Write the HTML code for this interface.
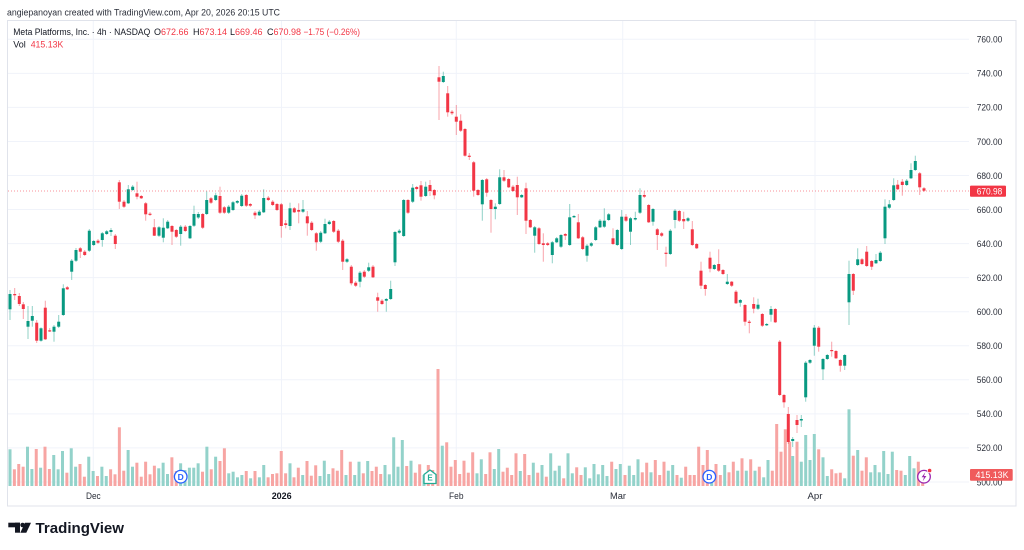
<!DOCTYPE html>
<html><head><meta charset="utf-8">
<style>
html,body{margin:0;padding:0;background:#fff;width:1024px;height:550px;overflow:hidden}
svg{display:block;font-family:"Liberation Sans",sans-serif}
</style></head>
<body>
<svg id="c" width="1024" height="550" viewBox="0 0 1024 550" xmlns="http://www.w3.org/2000/svg">
<rect x="0" y="0" width="1024" height="550" fill="#fff"/>
<text x="7" y="15.3" font-size="9" fill="#2a2e39" textLength="273" lengthAdjust="spacingAndGlyphs">angiepanoyan created with TradingView.com, Apr 20, 2026 20:15 UTC</text>
<g id="grid"></g>
<g id="vol"></g>
<g id="cdl"></g>
<line x1="8" y1="191" x2="969" y2="191" stroke="#f23645" stroke-opacity="0.55" stroke-width="1" stroke-dasharray="1 2"/>
<!-- markers -->
<circle cx="180.7" cy="476.7" r="6.3" fill="#fff" stroke="#2962ff" stroke-width="1.3"/>
<text x="180.7" y="479.8" font-size="8.5" font-weight="bold" fill="#2962ff" text-anchor="middle">D</text>
<circle cx="709.3" cy="476.7" r="6.3" fill="#fff" stroke="#2962ff" stroke-width="1.3"/>
<text x="709.3" y="479.8" font-size="8.5" font-weight="bold" fill="#2962ff" text-anchor="middle">D</text>
<polygon points="424,474.5 430,470 436,474.5 436,483.5 424,483.5" fill="#fff" stroke="#22ab94" stroke-width="1.3" stroke-linejoin="round"/>
<text x="430" y="480.7" font-size="8" font-weight="bold" fill="#22ab94" text-anchor="middle">E</text>
<circle cx="924" cy="476.7" r="6.3" fill="#fff" stroke="#9c27b0" stroke-width="1.3"/>
<path d="M925.3,472.3 L921.6,477.3 L924,477.3 L922.7,481.2 L926.4,476 L924,476 Z" fill="#9c27b0"/>
<circle cx="929.6" cy="470.6" r="2.2" fill="#f23645" stroke="#fff" stroke-width="0.8"/>
<!-- legend -->
<g font-size="9" fill="#131722">
<text x="13.3" y="35.2" textLength="137" lengthAdjust="spacingAndGlyphs">Meta Platforms, Inc. · 4h · NASDAQ</text>
<text x="154" y="35.2">O<tspan fill="#f23645">672.66</tspan></text>
<text x="193" y="35.2">H<tspan fill="#f23645">673.14</tspan></text>
<text x="230" y="35.2">L<tspan fill="#f23645">669.46</tspan></text>
<text x="267" y="35.2">C<tspan fill="#f23645">670.98</tspan></text>
<text x="303.5" y="35.2" fill="#f23645" textLength="56.5" lengthAdjust="spacingAndGlyphs">−1.75 (−0.26%)</text>
<text x="13.3" y="47.3">Vol</text>
<text x="30.7" y="47.3" fill="#f23645" textLength="32.6" lengthAdjust="spacingAndGlyphs">415.13K</text>
</g>
<!-- price axis -->
<g id="pax" font-size="9.2" fill="#2a2e39"></g>
<rect x="970" y="185.6" width="36" height="11.2" rx="1" fill="#f23645"/>
<text x="976.7" y="194.5" font-size="9.2" fill="#fff" textLength="25.6" lengthAdjust="spacingAndGlyphs">670.98</text>
<rect x="970" y="469" width="42.7" height="11.7" rx="1" fill="#f05a5c"/>
<text x="975.5" y="478.2" font-size="9.2" fill="#fff" textLength="33" lengthAdjust="spacingAndGlyphs">415.13K</text>
<!-- time axis -->
<g font-size="9" fill="#2a2e39">
<text x="86" y="499.2" textLength="14.7" lengthAdjust="spacingAndGlyphs">Dec</text>
<text x="271.7" y="499.2" font-weight="bold" fill="#131722" textLength="20" lengthAdjust="spacingAndGlyphs">2026</text>
<text x="449" y="499.2" textLength="14.5" lengthAdjust="spacingAndGlyphs">Feb</text>
<text x="610" y="499.2" textLength="16" lengthAdjust="spacingAndGlyphs">Mar</text>
<text x="807.5" y="499.2" textLength="15" lengthAdjust="spacingAndGlyphs">Apr</text>
</g>
<!-- frame -->
<rect x="7.5" y="20.5" width="1008.5" height="485.5" fill="none" stroke="#e0e3eb" stroke-width="1"/>
<!-- logo -->
<g fill="#131722">
<rect x="8.3" y="522.7" width="11.7" height="4.6"/>
<rect x="15" y="522.7" width="5" height="10"/>
<circle cx="22.6" cy="525" r="2.3"/>
<polygon points="25,522.7 31,522.7 26.3,532.7 20.3,532.7"/>
<text x="35.5" y="532.8" font-size="14.6" font-weight="bold" textLength="88.5" lengthAdjust="spacingAndGlyphs">TradingView</text>
</g>
</svg>
<script>
(function(){
var NS="http://www.w3.org/2000/svg";
function el(p,n,a){var e=document.createElementNS(NS,n);for(var k in a)e.setAttribute(k,a[k]);p.appendChild(e);return e;}
var grid=document.getElementById("grid");
for(var k=0;k<14;k++){var y=39.3+k*34.05;el(grid,"line",{x1:8,x2:969,y1:y,y2:y,stroke:"#f0f3fa","stroke-width":1});}
[93.3,281.5,456.3,622.7,815].forEach(function(x){el(grid,"line",{x1:x,x2:x,y1:21,y2:486,stroke:"#f0f3fa","stroke-width":1});});
var pax=document.getElementById("pax");
for(var k=0;k<14;k++){var y=39.3+k*34.05;var t=el(pax,"text",{x:976.7,y:(y+3.3).toFixed(1),textLength:25.6,lengthAdjust:"spacingAndGlyphs"});t.textContent=(760-20*k).toFixed(2);}
// volume
var v4=[[449.3,1],[469.3,0],[464,0],[466.7,0],[446.7,1],[469,1],[449,0],[467.7,1],[446.7,0],[469,0],[455,1],[469.3,1],[451,1],[472.7,0],[448.3,1],[466.7,1],[464,0],[476.7,0],[456.7,1],[471,1],[476,0],[466.7,1],[476,1],[469.3,0],[474.3,0],[427.3,0],[470.7,0],[450,1],[466.7,1],[462.7,0],[476.7,0],[461.7,0],[474.3,0],[465.7,0],[468.3,1],[462.7,1],[474,1],[457.3,0],[471,0],[463.3,1],[470,1],[467.7,1],[467.7,1],[463.3,1],[471.7,0],[446.7,1],[469.3,0],[456.7,1],[461,0],[448.3,0],[473.3,1],[471.7,1],[477.3,1],[475,1],[471,0],[478.3,1],[471,0],[477.3,1],[465,1],[477.3,0],[474,0],[473.3,0],[451,0],[473.3,0],[463.3,1]];
var vols=[];
v4.forEach(function(a,i){vols.push([10+i*4.375,a[0],a[1]]);});
var vrest=[[294,477.3,0],[298.3,467.7,0],[302.7,475,1],[307,461,0],[311.3,475.7,0],[315.7,465.3,0],[320,476,1],[324.3,460.7,1],[328.7,474,1],[333,468.3,0],[337.3,470.7,0],[341.7,450,0],[346,475,1],[350.3,461.7,0],[354.7,475,1],[359,461.7,1],[363.3,473.3,0],[367.7,461,1],[372,471,0],[376.3,466.7,0],[380.7,474,0],[385,465,1],[389.3,474.3,1],[393.7,437.3,1],[398,466.7,1],[402.3,440,1],[406.7,466,0],[411,460.7,1],[415.3,472.7,0],[419.7,464.3,0],[424,475,1],[428.3,465,0],[432.7,470,0],[438,369,0],[442.3,445.7,1],[446.7,442.3,0],[451,466.7,0],[455.3,460,0],[459.7,474,0],[464,460.7,0],[468.3,472.7,0],[472.7,452.3,0],[477,473.3,1],[481.3,459.3,1],[485.7,474,0],[490,452.3,0],[494.3,469,1],[498.7,449,1],[503,471.7,0],[507.3,467.7,0],[511.7,475,0],[516,453.3,0],[520.3,471,1],[524.7,454,0],[529,475,0],[533.3,462.7,1],[537.7,472.7,0],[542,465,1],[546.3,476.7,0],[550.7,453.3,1],[555,470.7,1],[559.3,465.7,1],[563.7,478.3,0],[568,453.3,1],[572.3,473.3,1],[576.7,467.3,0],[581,475,0],[585.3,467.3,1],[589.7,478.3,1],[594,464,1],[598.3,474.3,1],[602.7,465,1],[607,476,1],[611.7,461.7,0],[616,469,1],[620.3,464,1],[625,475,0],[629.3,465.7,1],[633.7,475,1],[638,459.3,1],[642.3,472.3,0],[646.7,462.7,0],[651,472.3,1],[655.3,460,0],[659.7,475,0],[664,461.7,0],[668.3,470.7,1],[672.7,465,1],[677,475,0],[681.3,477.7,1],[685.7,466.7,0],[690,475,0],[694.3,475,0],[698.7,446.7,0],[703,465,0],[707.3,450,0],[711.7,475,1],[716,464,0],[720.3,475,0],[724.7,465,1],[729,472.3,0],[733.3,461.7,0],[737.7,470.7,1],[742,458.3,0],[746.3,470.7,1],[750.7,459.3,0],[755,470.7,1],[759.3,466.7,0],[763.7,477.3,1],[768,460,1],[772.3,470.7,0],[776.7,424,0],[781,451.7,0],[785.3,429.3,0],[789.7,441.7,0],[792.7,456,1],[797,441.7,0],[801.3,461.7,1],[805.7,435,1],[810,460,1],[814.3,434,1],[818.7,449.3,0],[823,457.3,1],[827.3,476,1],[831.7,469.3,0],[836,473.3,0],[840.3,472.7,0],[844.7,478.3,1],[849,409.3,1],[853.3,455.7,0],[857.7,450,1],[862,470.7,0],[866.3,457.3,0],[870.7,472.3,1],[875,465,1],[879.3,472.3,1],[883.7,451,1],[888,474,1],[892.3,451.7,1],[896.7,470,0],[901,470.7,0],[905.3,475,1],[909.7,456,1],[914,468.3,1],[918.3,461.7,0],[922.7,476,0]];
vols=vols.concat(vrest);
var vg=document.getElementById("vol");
vols.forEach(function(v){el(vg,"rect",{x:(v[0]-1.5).toFixed(2),y:v[1],width:3,height:(486-v[1]).toFixed(2),fill:v[2]?"#93d2ca":"#f7a5a3"});});
// candles [x, bodyTop, bodyBot, wickTop, wickBot, green]
var C=[[10,294,309.3,290,320,1],[14.7,294,295.3,288,300,0],[19.3,296,304,293,306,0],[23.3,304.3,309,302,319,0],[28,321,326.7,306,339,1],[32.3,316,320.7,306,326.7,1],[36.7,322.7,340.7,320,343,0],[41,328.3,340.7,0,0,1],[45.3,307.7,339.3,300.7,340,0],[49.7,330.3,331.3,328,332,0],[54,326.7,331.7,325,341.7,1],[58.7,321.7,326.7,315,328,1],[63.3,288.3,315,284.3,316,1],[67.3,287.3,289.3,286,290,0],[71.7,260.7,271.7,259,280,1],[76,250,260.7,248,262,1],[80.3,248.3,251.7,247,258,0],[84.7,251.7,255,250,256,0],[89.3,230.7,250.7,229,252,1],[93.7,241,245,240,246,1],[98,240.7,242.7,239,244,0],[102.3,233.3,240,232,246.7,1],[106.7,231.3,234,230,235,1],[111,230,232,228,236,1],[115.3,235.7,244,234,249,0],[119.3,182.3,201.7,180,209,0],[124,201.7,206.7,200,208,0],[128.3,189.3,203.3,185,204,1],[132.7,186.7,190,185,191,1],[137,193.3,196.7,181.7,199.3,0],[141.3,196,198.3,195,199,0],[145.7,203.3,214.3,202,220.7,0],[150,213.7,214.7,212,216,0],[154.3,227.3,235.7,219,236,0],[159,227.3,235.7,226,237,1],[163.3,227.7,237.7,218.3,242.3,1],[167.7,221.7,228.3,220,229,1],[172,226,231.7,225,245,0],[176.3,230,236.7,229,238,0],[180.7,226.7,234,225,245.7,1],[185.3,226.7,231,225,232,0],[190,226,238.3,225,239,1],[194,214,225.7,205.7,227,1],[198.3,214,217.5,212,219,1],[202.7,214,227.7,213,229,0],[206.7,200,214,191.3,215,1],[211,198.3,202.7,197,204,0],[215.7,195.3,200,192.7,201,1],[220,196,212.7,186.7,214,0],[224.3,207.3,212.7,206,214,0],[228.7,206.7,212.7,205,214,1],[233,202.3,210,201,211,1],[237.3,201,202.7,200,204,1],[241.7,195.7,206,194,207,1],[246.3,195,205.7,194,207,0],[250.3,204,205.7,203,207,0],[255,212.7,215.3,211,219,0],[259.3,211.7,215.3,210,216,1],[263.7,198,212.3,189.3,213,1],[268.3,197.7,200,196,201,0],[272.7,201.7,205,200,206,0],[277,204,210,203,211,0],[281.3,204.3,226,203,237.7,0],[285.7,223.3,225,220,228.3,0],[290,208.3,226,202.7,230,1],[294.3,208.3,212.3,207,213,0],[298.7,210,211.7,203.3,223.3,0],[303,209.3,211.7,200,213,1],[307.3,216.3,223.3,211,235.7,0],[311.7,222.7,230,221,231,0],[316.3,233.3,242.3,232,250.7,0],[320.7,232.7,241.7,231,243,1],[325,224,233.3,218.7,234,1],[329.3,221.7,224,220,225,1],[333.7,221,231.7,220,233,0],[338.3,230.7,241.7,229,243,0],[342.7,240.7,261.7,239,270,0],[347,259.3,261.7,258,263,1],[351.3,266.7,283.3,265,285.3,0],[355.7,282.7,285.7,281,287,0],[360,272.7,281.7,271,287.3,1],[364.3,271.7,276.7,270,278,0],[368.7,267.3,270.7,262.7,272,1],[373,266.7,277.3,265,278,0],[377.7,297.3,300.7,292.7,311.7,0],[382,300.7,304,299,305,0],[386.3,299,300.7,298,311.7,1],[390.7,289,299,280.7,300,1],[395,232,262.3,231,266,1],[399.3,230.7,232.7,229,234,1],[403.7,200,236,199,237,1],[408,200,212.7,199,214,0],[412.7,187.7,201.7,184,203,1],[416.7,187,189,186,190,0],[421,185.3,196.7,181,200.7,0],[425.7,186.7,196,181.7,197,1],[430,185,191,180,196,0],[434.3,190,195.3,189,199.3,0],[439,77.3,81.7,66,120,0],[443.3,76,82,71.7,83,1],[447.7,93.3,112.3,86,116.7,0],[452,111.7,113.3,110,115,0],[456.3,116.7,121.7,105,135,0],[460.7,120.7,130.7,114.3,132,0],[465,129,155.7,128,156.7,0],[469.3,155.7,156.7,153,160,0],[473.7,162.3,190.7,161,196.7,0],[478,190,195,189,196,0],[482.3,180,204.3,179,220.7,1],[486.7,179.3,192.7,178,196.7,0],[491,200,209,199,232.7,0],[495.3,206.7,209,203.3,219.3,1],[499.7,177.3,204,169.3,205,1],[504,177.3,180.7,170,182,0],[508.7,179,187.3,178,188,0],[513,186.7,191,185,192,0],[517.3,185,197.3,176.7,215,0],[521.7,195,197.3,194,198,1],[526,188.3,220.7,182.7,234,0],[530.3,220,227.3,219,228,0],[534.7,227.3,235.7,226,252.7,1],[539,228.3,244,227,245,0],[543.3,243.3,245,233.3,261.7,0],[547.7,243.3,245,242,246,0],[552.3,242.3,255,241,263.3,1],[556.7,238.3,242.3,237,243,1],[561,235,246.7,234,248,1],[565.3,234,235.7,233,240,0],[569.7,217.3,245,204,246,1],[574,216,217.3,215,218,1],[578.3,222.3,238.3,214,239,0],[582.7,237.3,249,236,250,0],[587,245.7,255.7,244,261.7,1],[591.3,243.3,245.7,242,247,1],[595.7,227.3,240,226,241,1],[600,220.7,227.3,219,228,1],[604.3,220.7,226.7,208.3,228,1],[608.7,214.3,220,213,221,1],[613,238.3,244,228.3,245,0],[617.3,230,245,229,246,1],[621.7,216.7,249,210,250,1],[626,216.7,220.7,214,222,0],[630.5,218.3,231.7,217,245,1],[635.3,218,219.5,211.7,220.5,1],[640,195,212.7,188.3,214,1],[644.3,195,196.7,191,198,0],[648.7,205,222.3,204,223,0],[653,209,221.7,208,225.7,1],[657.3,229.3,235,228,250,0],[661.7,233.3,235.7,232,237,0],[666,252.7,253.7,246.7,266.7,0],[670.3,230.7,254,229,255,1],[675,210.7,220,209,228.3,1],[679.3,211,220.7,210,222,0],[683.7,219,221.3,211.7,229,0],[688,218.3,220.7,217,222,1],[692.3,229.3,245,221,246,0],[696.7,244,248.3,243,249,0],[701,270.7,285.7,261.7,289,0],[705.3,285,289,284,295.7,0],[710,257.7,268.7,251.7,272.3,0],[714.3,265,269,264,270,1],[718.7,264,270.7,249.3,272,0],[723,270,274,269,275,0],[727.3,281.7,284,274,285,1],[731.7,281.7,285.7,281,287,0],[736,291.7,303.3,290,304,0],[740.3,300,302.7,299,306.7,1],[745,305,321.7,304,325.7,0],[749.3,321.7,322.7,320,333.3,0],[753.7,304,308.7,297.3,313.3,0],[758,304.7,308.7,298.7,310,1],[762.3,314,325.7,313,327,0],[766.7,324,325.3,323,326,1],[771,309,314.7,306,321.7,1],[775.3,309,322.3,308,323,0],[779.7,341.7,395,340,396,0],[784,395,402.3,394,407.7,0],[788.3,414,442,407,444,0],[792.7,439,441,437,447,1],[797,420,425,415,433,0],[801.3,419,420.5,415,427,1],[805.7,362.7,397.3,361,401.7,1],[810,360,362.7,359,364,1],[814.3,327.7,345.7,325,355.7,1],[818.7,327.7,346.7,326,351.7,0],[823,359,369.3,358,380,1],[827.3,355,359,354,360,1],[831.7,350,351,341.7,356.7,0],[836,351,358.3,350,359,0],[840.3,360,365.7,359,371.7,0],[844.7,355,365.7,354,370,1],[849,274,302.3,260.7,325,1],[853.3,274,290.7,273,295,0],[857.7,259.3,265,248.3,266,1],[862,259.3,264,258,265,0],[866.7,251.7,266,246,267,0],[871.7,261,266.7,260,270,0],[876,260,263.3,254,264,1],[880.3,252.7,261,251,262,1],[885,206.7,238.3,199.3,244,1],[889.3,204.3,207.7,200,209,1],[893.7,185.3,200,178.3,201,1],[897.7,184.7,189.3,180,190,0],[902.3,181.7,185,179,195.7,0],[906.7,180.7,185,179,186,1],[911,170,178.3,163.3,179,1],[915.3,161,170,155.7,171,1],[919.7,173.3,187.3,172,195,0],[924,188.3,190.7,187,192,0]];
var cg=document.getElementById("cdl");
C.forEach(function(c){
 var x=c[0],t=c[1],b=c[2],wt=c[3]||t-1,wb=c[4]||b+1,col=c[5]?"#089981":"#f23645";
 if(b-t<1.2){b=t+1.2;}
 el(cg,"rect",{x:(x-0.5).toFixed(2),y:wt,width:1,height:(wb-wt).toFixed(2),fill:col,"fill-opacity":0.45});
 el(cg,"rect",{x:(x-1.5).toFixed(2),y:t,width:3,height:(b-t).toFixed(2),fill:col});
});
})();
</script>
</body></html>
